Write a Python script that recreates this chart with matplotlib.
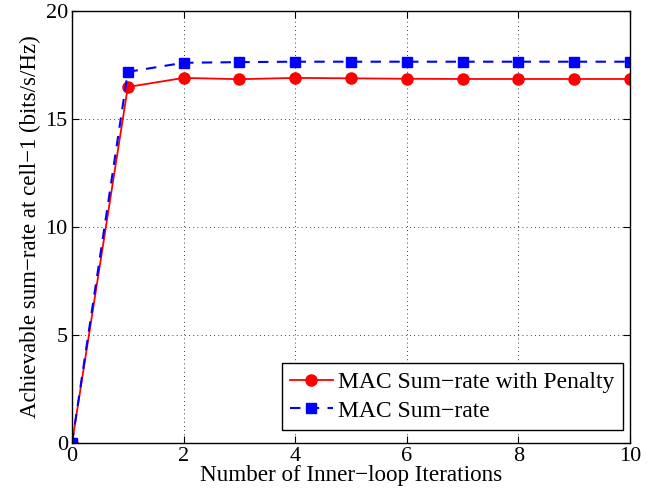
import numpy as np
import matplotlib.pyplot as plt

iters = [0, 1, 2, 3, 4, 5, 6, 7, 8, 9, 10]
rate_penalty = [0, 16.48, 16.9, 16.84, 16.9, 16.88, 16.86, 16.85, 16.85, 16.85, 16.85]
rate_mac = [0, 17.18, 17.6, 17.63, 17.65, 17.65, 17.65, 17.65, 17.65, 17.65, 17.65]

plt.rcParams['font.family'] = ['Liberation Serif', 'DejaVu Serif']
plt.rcParams['font.size'] = 16

fig = plt.figure(figsize=(6.62, 4.97), dpi=100)
ax = fig.add_axes([0.1088, 0.1087, 0.8429, 0.8693])

ax.plot(iters, rate_penalty, "-", color="red", lw=1.3, marker="o", ms=8,
        label="MAC Sum\u2212rate with Penalty")
ax.plot(iters, rate_mac, "--", color="blue", lw=1.5, marker="s", ms=6.5,
        dashes=(5, 4), label="MAC Sum\u2212rate")

ax.set_xlim(0, 10)
ax.set_ylim(0, 20)
ax.set_xticks(range(0, 11, 2))
ax.set_yticks(range(0, 21, 5))
ax.tick_params(direction="in", top=True, right=True, length=5, width=0.8, pad=3)
ax.grid(True, linestyle=(0, (1, 4)), color="black", lw=0.6)
for s in ax.spines.values():
    s.set_linewidth(1.0)

ax.set_xlabel("Number of Inner\u2212loop Iterations", labelpad=-1, fontsize=16.7)
ax.set_ylabel("Achievable sum\u2212rate at cell\u22121 (bits/s/Hz)", labelpad=3,
              fontsize=16.5)

leg = ax.legend(loc="lower right", bbox_to_anchor=(0.9875, 0.03), fancybox=False,
                edgecolor="black", framealpha=1, borderpad=0.35, labelspacing=0.3,
                handlelength=1.8, handletextpad=0.25, borderaxespad=0,
                fontsize=17)
leg.get_frame().set_linewidth(1.0)

fig.savefig("out.png", dpi=100)
